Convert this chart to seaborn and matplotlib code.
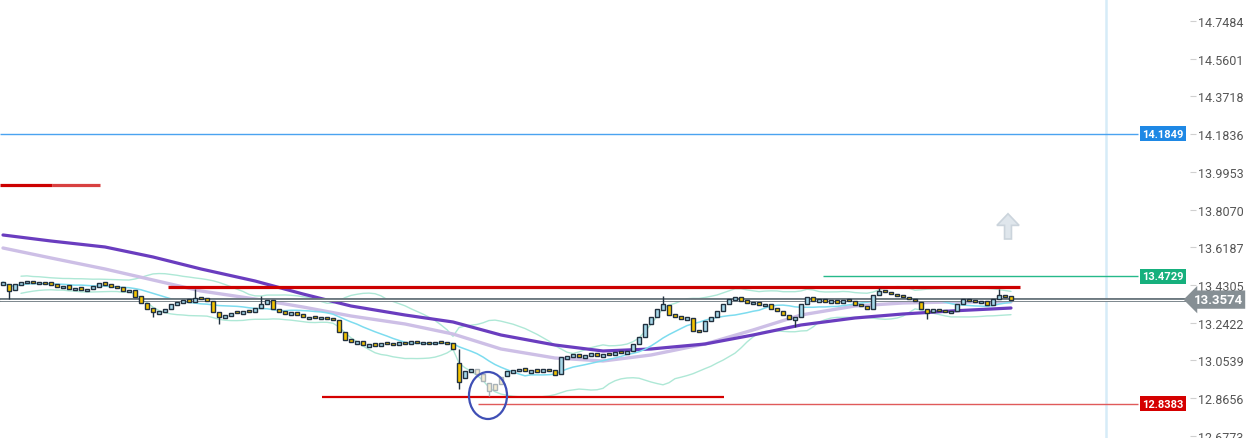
import matplotlib
matplotlib.use('Agg')
import numpy as np
import pandas as pd
import seaborn as sns
import matplotlib.pyplot as plt
import matplotlib.transforms as mtransforms
from matplotlib.patches import Ellipse, FancyArrow

# candles, one every ~6 px of the original
closes = [13.4453, 13.4003, 13.4353, 13.4453, 13.4503, 13.4403, 13.4453, 13.4353, 13.4303, 13.4203,
          13.4253, 13.4104, 13.4153, 13.4053, 13.4104, 13.4253, 13.4403, 13.4303, 13.4203, 13.4153,
          13.4003, 13.4053, 13.3704, 13.3404, 13.3105, 13.2955, 13.3005, 13.3105, 13.3354, 13.3454,
          13.3554, 13.3454, 13.3654, 13.3604, 13.3504, 13.2955, 13.2705, 13.2805, 13.2905, 13.2905,
          13.3005, 13.2955, 13.3155, 13.3354, 13.3554, 13.3105, 13.2955, 13.2855, 13.2955, 13.2805,
          13.2705, 13.2705, 13.2655, 13.2705, 13.2605, 13.2556, 13.1956, 13.1557, 13.1457, 13.1507,
          13.1307, 13.1357, 13.1257, 13.1407, 13.1357, 13.1307, 13.1457, 13.1357, 13.1507, 13.1407,
          13.1457, 13.1357, 13.1457, 13.1407, 13.1357, 13.1108, 12.9460, 13.0009, 13.0109, 12.9860,
          12.9510, 12.9011, 12.9361, 12.9710, 13.0009, 13.0059, 13.0109, 13.0009, 13.0059, 12.9960,
          13.0109, 13.0009, 12.9810, 13.0708, 13.0758, 13.0858, 13.0708, 13.0808, 13.0908, 13.0758,
          13.0858, 13.0808, 13.0958, 13.0908, 13.1008, 13.1357, 13.1707, 13.2356, 13.2705, 13.3105,
          13.3354, 13.2805, 13.2705, 13.2605, 13.2705, 13.2006, 13.1956, 13.2506, 13.2705, 13.3005,
          13.3354, 13.3604, 13.3704, 13.3504, 13.3404, 13.3454, 13.3305, 13.3354, 13.3105, 13.3005,
          13.2805, 13.2605, 13.2705, 13.3354, 13.3704, 13.3504, 13.3604, 13.3454, 13.3554, 13.3404,
          13.3554, 13.3504, 13.3305, 13.3255, 13.3105, 13.3804, 13.4003, 13.3953, 13.3854, 13.3754,
          13.3704, 13.3604, 13.3504, 13.3105, 13.2905, 13.3105, 13.3005, 13.2955, 13.3005, 13.3354,
          13.3604, 13.3504, 13.3454, 13.3504, 13.3305, 13.3604, 13.3804, 13.3704, 13.3574]
opens = [13.4303, 13.4353, 13.4053, 13.4303, 13.4403, 13.4503, 13.4353, 13.4453, 13.4453, 13.4353,
         13.4153, 13.4303, 13.4053, 13.4203, 13.4003, 13.4104, 13.4203, 13.4453, 13.4353, 13.4253,
         13.4203, 13.3953, 13.4053, 13.3754, 13.3404, 13.3155, 13.2855, 13.2955, 13.3105, 13.3305,
         13.3404, 13.3604, 13.3454, 13.3704, 13.3654, 13.3504, 13.2955, 13.2655, 13.2755, 13.3005,
         13.2855, 13.3055, 13.2955, 13.3155, 13.3354, 13.3554, 13.3105, 13.3005, 13.2805, 13.2955,
         13.2855, 13.2605, 13.2755, 13.2605, 13.2705, 13.2655, 13.2556, 13.1956, 13.1607, 13.1357,
         13.1507, 13.1207, 13.1407, 13.1257, 13.1457, 13.1407, 13.1307, 13.1457, 13.1357, 13.1507,
         13.1357, 13.1457, 13.1357, 13.1507, 13.1457, 13.1407, 13.0400, 12.9660, 12.9960, 13.0109,
         12.9860, 12.9410, 12.9061, 12.9361, 12.9760, 12.9909, 13.0009, 13.0159, 12.9909, 13.0109,
         12.9960, 13.0109, 13.0059, 12.9860, 13.0608, 13.0708, 13.0858, 13.0658, 13.0758, 13.0908,
         13.0708, 13.0908, 13.0808, 13.1008, 13.0858, 13.1008, 13.1357, 13.1707, 13.2356, 13.2705,
         13.3055, 13.3305, 13.2855, 13.2755, 13.2555, 13.2655, 13.2056, 13.2006, 13.2506, 13.2705,
         13.3005, 13.3354, 13.3554, 13.3704, 13.3554, 13.3354, 13.3454, 13.3255, 13.3354, 13.3155,
         13.3005, 13.2805, 13.2555, 13.2705, 13.3354, 13.3704, 13.3454, 13.3604, 13.3404, 13.3554,
         13.3404, 13.3604, 13.3504, 13.3355, 13.3255, 13.3105, 13.3804, 13.4053, 13.3953, 13.3854,
         13.3804, 13.3704, 13.3604, 13.3454, 13.3105, 13.2955, 13.3105, 13.3055, 13.2905, 13.3005,
         13.3354, 13.3604, 13.3554, 13.3404, 13.3504, 13.3305, 13.3604, 13.3804, 13.3754]
wick_high = {32: 13.4104, 43: 13.3754, 76: 13.1108, 110: 13.3754, 146: 13.4154, 166: 13.4104}
wick_low = {1: 13.3604, 25: 13.2705, 36: 13.2356, 76: 12.9111, 81: 12.8762, 132: 13.2206, 154: 13.2606}
faded = [79, 80, 81, 82, 83]

# slow / medium moving averages
ma_idx = [0, 8, 17, 25, 33, 42, 50, 58, 67, 75, 83, 92, 100, 108, 117, 125, 133, 142, 150, 158, 168]
ma_slow_val = [13.6800, 13.6500, 13.6201, 13.5702, 13.5103, 13.4504, 13.3854, 13.3255, 13.2806,
               13.2457, 13.1807, 13.1308, 13.1009, 13.1109, 13.1358, 13.1807, 13.2307, 13.2657,
               13.2856, 13.3006, 13.3155]
ma_mid_val = [13.6151, 13.5652, 13.5103, 13.4553, 13.4004, 13.3605, 13.3205, 13.2756, 13.2357,
              13.1857, 13.1109, 13.0659, 13.0509, 13.0809, 13.1358, 13.2057, 13.2806, 13.3255,
              13.3405, 13.3455, 13.3455]

tick_vals = [12.6773, 12.8656, 13.0539, 13.2422, 13.4305, 13.6187,
             13.8070, 13.9953, 14.1836, 14.3718, 14.5601, 14.7484]

last_price = 13.3574
level_blue = 14.1849
level_green = 13.4729
level_red = 12.8383
resist_top = 13.9296
resist_mid = 13.4204
support_low = 12.8712


def px(p):
    # pixel column of the original -> candle index
    return p / 6 - 0.5


df = pd.DataFrame({'i': np.arange(len(closes)), 'open': opens, 'close': closes})
df['high'] = df[['open', 'close']].max(axis=1)
df['low'] = df[['open', 'close']].min(axis=1)
for k, v in wick_high.items():
    df.loc[k, 'high'] = max(df.loc[k, 'high'], v)
for k, v in wick_low.items():
    df.loc[k, 'low'] = min(df.loc[k, 'low'], v)
df['ma'] = df['close'].rolling(12, min_periods=1).mean()
mid = df['close'].rolling(20, min_periods=4).mean()
sd = df['close'].rolling(20, min_periods=4).std()
df['bb_up'] = mid + 2 * sd
df['bb_lo'] = mid - 2 * sd

sns.set_theme(style='white')
plt.rcParams['font.family'] = ['Roboto', 'DejaVu Sans']

fig = plt.figure(figsize=(12.49, 4.39), dpi=100)
ax = fig.add_axes([0, 0, 1190 / 1249, 1])
ax.set_xlim(-0.5, px(1190))
ax.set_ylim(12.6665, 14.8582)

# bands and averages
sns.lineplot(x=df['i'], y=df['bb_up'], ax=ax, color='#aee8d6', lw=1, zorder=2)
sns.lineplot(x=df['i'], y=df['bb_lo'], ax=ax, color='#aee8d6', lw=1, zorder=2)
sns.lineplot(x=ma_idx, y=ma_mid_val, ax=ax, color='#cdbfe6', lw=2.4, zorder=3)
sns.lineplot(x=ma_idx, y=ma_slow_val, ax=ax, color='#6a3dbf', lw=2.3, zorder=3)
sns.lineplot(x=df['i'], y=df['ma'], ax=ax, color='#7ddcef', lw=1.1, zorder=3)

# horizontal levels
ax.hlines(level_blue, px(0), px(1138), color='#4aa3f0', lw=1, zorder=2)
ax.hlines(resist_top, px(0), px(52), color='#cc0000', lw=2.3, zorder=4)
ax.hlines(resist_top, px(52), px(100), color='#cc0000', lw=2.3, alpha=0.75, zorder=4)
ax.hlines(resist_mid, px(168), px(1020), color='#cc0000', lw=2.3, zorder=4)
ax.hlines(support_low, px(322), px(724), color='#d50000', lw=1.6, zorder=4)
ax.hlines(level_red, px(478), px(1138), color='#e05a5a', lw=1, zorder=2)
ax.hlines(level_green, px(823), px(1138), color='#26b98a', lw=1, zorder=2)
ax.axhline(last_price, color='#66737a', lw=2.8, zorder=3)
ax.axhline(last_price, color='white', lw=0.9, zorder=3)
ax.axvline(px(1106), color='#d6ecf8', lw=1.8, zorder=1)

# candles
normal = df[~df['i'].isin(faded)]
fade = df[df['i'].isin(faded)]
up = normal['close'] >= normal['open']
body_c = np.where(up, '#a6d8ea', '#f5c400')
ax.vlines(normal['i'], normal['low'], normal['high'], color='#22313f', lw=1.0, zorder=5)
ax.bar(normal['i'], np.maximum((normal['close'] - normal['open']).abs(), 0.006),
       bottom=normal[['open', 'close']].min(axis=1), width=0.72, color=body_c,
       edgecolor='#22313f', linewidth=1.0, zorder=6)
ax.vlines(fade['i'], fade['low'], fade['high'], color='#aab3b9', lw=1.0, zorder=5)
ax.bar(fade['i'], np.maximum((fade['close'] - fade['open']).abs(), 0.006),
       bottom=fade[['open', 'close']].min(axis=1), width=0.72, color='#f3ecd2',
       edgecolor='#aab3b9', linewidth=1.0, zorder=6)

ax.add_patch(Ellipse((px(488), 12.8787), width=38 / 6, height=0.2347, fill=False,
                     ec='#3f4fb5', lw=1.6, zorder=7))
ax.add_patch(FancyArrow(px(1008), 13.660, 0, 0.068, width=1.15, head_width=3.7,
                        head_length=0.058, fc='#dfe6ec', ec='#cbd4dc', lw=1.2, zorder=4))

# price tags
for val, col in [(level_blue, '#1e88e5'), (level_green, '#16b07d'), (level_red, '#d50000')]:
    ax.text(px(1163), val, f'{val:.4f}', ha='center', va='center', color='white',
            fontsize=8, fontweight='bold', zorder=8,
            bbox=dict(boxstyle='square,pad=0.22', fc=col, ec='none'))
tr = mtransforms.blended_transform_factory(ax.transAxes, ax.transData)
ax.text(1218 / 1190, last_price, f'{last_price:.4f}', transform=tr, ha='center', va='center',
        color='white', fontsize=9.5, fontweight='bold', clip_on=False, zorder=8,
        bbox=dict(boxstyle='larrow,pad=0.2', fc='#868f94', ec='none'))

ax.yaxis.tick_right()
ax.set_yticks(tick_vals)
ax.set_yticklabels([f'{t:.4f}' for t in tick_vals])
ax.tick_params(axis='y', direction='out', length=4, width=0.8, color='#d0d0d0',
               labelcolor='#555555', labelsize=9, pad=2, right=True)
ax.set_xticks([])
ax.set_xlabel('')
ax.set_ylabel('')
for s in ax.spines.values():
    s.set_visible(False)

fig.savefig('out.png', dpi=100)
